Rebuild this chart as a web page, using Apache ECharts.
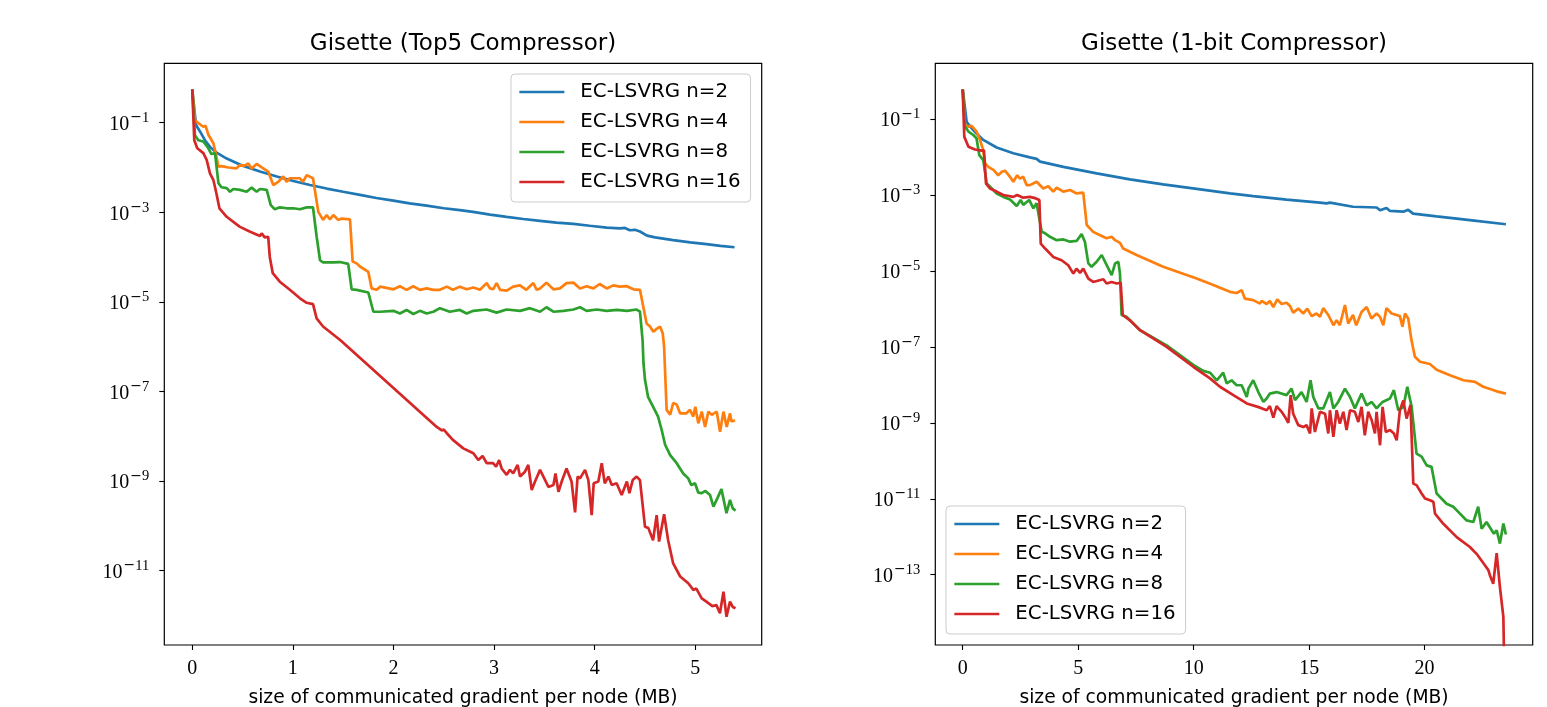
<!DOCTYPE html>
<html>
<head>
<meta charset="utf-8">
<title>Gisette EC-LSVRG</title>
<script src="https://cdn.jsdelivr.net/npm/echarts@6/dist/echarts.min.js"></script>
<style>
html, body { margin: 0; padding: 0; background: #fff; }
#chart { width: 1547px; height: 707px; }
</style>
</head>
<body>
<div id="chart"></div>
<script>
// series names and titles
var seriesNames = ['EC-LSVRG n=2', 'EC-LSVRG n=4', 'EC-LSVRG n=8', 'EC-LSVRG n=16'];
var panelTitles = ['Gisette (Top5 Compressor)', 'Gisette (1-bit Compressor)'];
var xName = 'size of communicated gradient per node (MB)';

// tick values
var xTicksTop5 = [0, 1, 2, 3, 4, 5];
var xTicksBit = [0, 5, 10, 15, 20];
var yTicksTop5 = [1e-1, 1e-3, 1e-5, 1e-7, 1e-9, 1e-11];
var yTicksBit = [1e-1, 1e-3, 1e-5, 1e-7, 1e-9, 1e-11, 1e-13];

// Top5 compressor: [MB, error]
var top5N2 = [[0,0.556],[0.037,8.91e-2],[0.078,6.31e-2],[0.126,4.07e-2],[0.176,2.88e-2],[0.25,2.09e-2],[0.342,1.58e-2],[0.5,1.10e-2],[0.673,8.13e-3],[0.84,6.31e-3],[1.004,5.01e-3],[1.17,4.07e-3],[1.336,3.39e-3],[1.5,2.88e-3],[1.667,2.45e-3],[1.83,2.09e-3],[1.999,1.82e-3],[2.16,1.58e-3],[2.33,1.41e-3],[2.5,1.23e-3],[2.66,1.12e-3],[2.79,1.02e-3],[2.96,8.91e-4],[3.125,7.94e-4],[3.29,7.08e-4],[3.457,6.46e-4],[3.62,5.89e-4],[3.788,5.50e-4],[3.95,5.01e-4],[4.12,4.57e-4],[4.25,4.37e-4],[4.30,4.47e-4],[4.35,3.98e-4],[4.40,4.07e-4],[4.45,3.72e-4],[4.52,3.02e-4],[4.60,2.75e-4],[4.78,2.40e-4],[4.95,2.14e-4],[5.11,1.95e-4],[5.25,1.78e-4],[5.39,1.66e-4]];
var top5N4 = [[0,0.556],[0.027,0.115],[0.06,9.77e-2],[0.11,8.13e-2],[0.133,8.51e-2],[0.16,5.37e-2],[0.21,3.47e-2],[0.226,2.45e-2],[0.26,1.05e-2],[0.29,1.07e-2],[0.36,1.0e-2],[0.44,9.55e-3],[0.47,1.12e-2],[0.52,1.10e-2],[0.557,1.23e-2],[0.59,9.55e-3],[0.64,1.20e-2],[0.705,9.55e-3],[0.755,8.13e-3],[0.805,4.07e-3],[0.855,4.79e-3],[0.905,6.31e-3],[0.938,4.79e-3],[0.97,5.75e-3],[1.07,5.75e-3],[1.10,4.79e-3],[1.137,6.76e-3],[1.20,5.75e-3],[1.253,1.02e-3],[1.30,6.76e-4],[1.336,8.71e-4],[1.369,6.92e-4],[1.402,8.71e-4],[1.45,6.76e-4],[1.485,7.24e-4],[1.568,6.92e-4],[1.594,7.94e-5],[1.634,7.24e-5],[1.667,6.17e-5],[1.75,4.68e-5],[1.783,2.0e-5],[1.83,1.86e-5],[1.87,2.19e-5],[2.0,1.91e-5],[2.064,2.24e-5],[2.13,1.86e-5],[2.197,2.24e-5],[2.263,1.86e-5],[2.33,2.0e-5],[2.396,1.86e-5],[2.462,1.86e-5],[2.53,2.19e-5],[2.59,1.86e-5],[2.66,2.19e-5],[2.727,1.91e-5],[2.794,2.09e-5],[2.86,1.86e-5],[2.926,2.63e-5],[2.96,2.0e-5],[2.99,1.91e-5],[3.025,2.63e-5],[3.06,1.86e-5],[3.125,1.78e-5],[3.19,2.19e-5],[3.258,2.34e-5],[3.32,1.86e-5],[3.39,2.63e-5],[3.424,1.86e-5],[3.457,2.0e-5],[3.52,2.69e-5],[3.59,1.91e-5],[3.655,2.0e-5],[3.72,2.63e-5],[3.788,2.69e-5],[3.854,2.0e-5],[3.92,2.24e-5],[3.987,2.0e-5],[4.05,2.51e-5],[4.12,2.0e-5],[4.186,2.34e-5],[4.25,2.19e-5],[4.32,2.24e-5],[4.385,1.91e-5],[4.45,1.86e-5],[4.483,7.76e-6],[4.516,3.31e-6],[4.55,2.82e-6],[4.583,2.14e-6],[4.616,2.51e-6],[4.65,2.82e-6],[4.676,2.0e-6],[4.69,1.0e-6],[4.715,3.89e-8],[4.75,3.02e-8],[4.78,5.50e-8],[4.815,5.13e-8],[4.85,3.24e-8],[4.91,3.24e-8],[4.947,3.89e-8],[4.98,2.75e-8],[5.0,4.57e-8],[5.03,1.95e-8],[5.064,3.55e-8],[5.097,1.62e-8],[5.13,3.55e-8],[5.163,3.02e-8],[5.213,3.55e-8],[5.246,1.26e-8],[5.28,3.55e-8],[5.312,1.62e-8],[5.345,3.24e-8],[5.36,2.14e-8],[5.395,2.29e-8]];
var top5N8 = [[0,0.556],[0.027,5.25e-2],[0.06,4.07e-2],[0.11,3.80e-2],[0.16,2.69e-2],[0.19,2.0e-2],[0.226,2.09e-2],[0.26,4.47e-3],[0.29,3.63e-3],[0.342,3.47e-3],[0.375,2.88e-3],[0.408,3.31e-3],[0.474,3.16e-3],[0.54,2.88e-3],[0.59,3.55e-3],[0.64,2.88e-3],[0.673,3.31e-3],[0.74,3.16e-3],[0.755,3.24e-3],[0.78,1.45e-3],[0.82,1.17e-3],[0.87,1.29e-3],[0.94,1.23e-3],[1.004,1.23e-3],[1.07,1.17e-3],[1.137,1.29e-3],[1.20,1.29e-3],[1.236,2.88e-4],[1.27,8.51e-5],[1.30,7.59e-5],[1.40,7.59e-5],[1.468,7.76e-5],[1.55,7.08e-5],[1.584,1.91e-5],[1.634,1.86e-5],[1.75,1.62e-5],[1.80,6.03e-6],[1.87,6.03e-6],[2.0,6.31e-6],[2.064,5.50e-6],[2.13,6.61e-6],[2.197,5.37e-6],[2.263,6.31e-6],[2.33,5.50e-6],[2.396,6.03e-6],[2.462,7.24e-6],[2.56,6.03e-6],[2.66,6.61e-6],[2.727,5.50e-6],[2.794,6.31e-6],[2.926,6.76e-6],[3.025,5.75e-6],[3.125,6.76e-6],[3.258,6.31e-6],[3.357,7.24e-6],[3.457,6.03e-6],[3.52,7.59e-6],[3.59,6.03e-6],[3.69,6.31e-6],[3.788,6.76e-6],[3.854,7.59e-6],[3.92,6.31e-6],[4.02,6.76e-6],[4.12,6.31e-6],[4.22,6.61e-6],[4.32,6.31e-6],[4.417,6.76e-6],[4.45,6.03e-6],[4.476,1.41e-6],[4.485,4.27e-7],[4.50,1.82e-7],[4.53,7.59e-8],[4.58,4.57e-8],[4.63,2.75e-8],[4.666,1.38e-8],[4.70,6.46e-9],[4.75,3.80e-9],[4.815,2.51e-9],[4.88,1.48e-9],[4.93,1.15e-9],[4.96,8.13e-10],[4.997,8.91e-10],[5.03,5.50e-10],[5.064,5.37e-10],[5.10,6.03e-10],[5.146,4.90e-10],[5.18,2.69e-10],[5.22,4.17e-10],[5.26,6.61e-10],[5.31,1.91e-10],[5.345,3.80e-10],[5.372,2.45e-10],[5.40,2.19e-10]];
var top5N16 = [[0,0.556],[0.02,4.07e-2],[0.05,2.69e-2],[0.11,2.09e-2],[0.143,1.48e-2],[0.176,7.41e-3],[0.21,5.25e-3],[0.24,2.63e-3],[0.27,1.23e-3],[0.342,7.94e-4],[0.47,4.79e-4],[0.57,3.72e-4],[0.673,2.95e-4],[0.69,3.39e-4],[0.72,2.75e-4],[0.755,2.82e-4],[0.77,1.02e-4],[0.80,4.37e-5],[0.87,2.82e-5],[0.97,1.86e-5],[1.07,1.20e-5],[1.137,9.55e-6],[1.20,8.91e-6],[1.236,4.27e-6],[1.30,2.82e-6],[1.47,1.41e-6],[2.43,1.62e-8],[2.48,1.35e-8],[2.50,1.41e-8],[2.53,1.17e-8],[2.59,8.32e-9],[2.694,5.37e-9],[2.794,4.17e-9],[2.843,2.95e-9],[2.886,3.63e-9],[2.926,2.51e-9],[2.99,2.51e-9],[3.02,2.09e-9],[3.05,2.95e-9],[3.075,1.91e-9],[3.125,1.38e-9],[3.158,1.78e-9],[3.19,1.48e-9],[3.234,2.29e-9],[3.258,1.26e-9],[3.307,1.62e-9],[3.34,2.29e-9],[3.374,6.31e-10],[3.407,9.77e-10],[3.457,1.78e-9],[3.54,7.41e-10],[3.59,8.13e-10],[3.61,1.48e-9],[3.64,5.75e-10],[3.672,9.77e-10],[3.72,1.91e-9],[3.77,9.77e-10],[3.805,2.0e-10],[3.83,1.26e-9],[3.854,1.15e-9],[3.904,1.78e-9],[3.937,1.05e-9],[3.97,1.74e-10],[3.99,8.91e-10],[4.036,9.77e-10],[4.07,2.51e-9],[4.10,8.91e-10],[4.136,1.26e-9],[4.17,8.13e-10],[4.218,8.91e-10],[4.268,4.90e-10],[4.32,9.77e-10],[4.345,5.37e-10],[4.378,1.05e-9],[4.417,1.26e-9],[4.45,1.05e-9],[4.50,9.55e-11],[4.533,8.91e-11],[4.58,4.79e-11],[4.616,1.74e-10],[4.64,4.47e-11],[4.69,1.82e-10],[4.73,4.79e-11],[4.78,1.45e-11],[4.85,7.41e-12],[4.93,5.25e-12],[4.98,3.72e-12],[5.01,3.98e-12],[5.064,2.40e-12],[5.11,2.04e-12],[5.17,1.62e-12],[5.21,1.70e-12],[5.245,1.12e-12],[5.28,3.39e-12],[5.31,9.33e-13],[5.345,2.04e-12],[5.372,1.55e-12],[5.40,1.45e-12]];

// 1-bit compressor: [MB, error]
var bitN2 = [[0,0.605],[0.17,8.51e-2],[0.32,6.31e-2],[0.6,4.17e-2],[0.89,2.82e-2],[1.47,1.78e-2],[2.19,1.26e-2],[2.91,9.77e-3],[3.2,8.91e-3],[3.35,7.59e-3],[4.36,5.50e-3],[5.8,3.72e-3],[7.24,2.57e-3],[8.68,1.91e-3],[10.13,1.45e-3],[11.57,1.10e-3],[12.58,9.33e-4],[14.02,7.59e-4],[15.47,6.31e-4],[15.75,6.03e-4],[15.90,6.31e-4],[16.9,4.90e-4],[17.92,4.68e-4],[18.07,3.98e-4],[18.35,4.57e-4],[18.50,3.80e-4],[19.08,3.63e-4],[19.29,4.07e-4],[19.5,3.24e-4],[20.52,2.75e-4],[21.96,2.19e-4],[23.52,1.70e-4]];
var bitN4 = [[0,0.605],[0.1,6.92e-2],[0.25,6.31e-2],[0.39,6.61e-2],[0.6,4.68e-2],[0.75,2.82e-2],[0.89,1.51e-2],[0.97,6.76e-3],[1.11,5.50e-3],[1.33,4.57e-3],[1.54,3.31e-3],[1.69,4.07e-3],[1.83,4.37e-3],[2.05,3.02e-3],[2.19,2.24e-3],[2.36,3.31e-3],[2.48,2.69e-3],[2.62,3.02e-3],[2.77,1.82e-3],[2.91,1.82e-3],[3.2,2.24e-3],[3.49,1.48e-3],[3.71,1.70e-3],[3.92,1.23e-3],[4.07,1.55e-3],[4.36,1.23e-3],[4.65,1.35e-3],[4.93,1.10e-3],[5.22,1.15e-3],[5.29,1.10e-3],[5.37,1.62e-4],[5.65,1.07e-4],[5.95,8.71e-5],[6.23,7.24e-5],[6.45,7.94e-5],[6.6,6.46e-5],[6.81,5.50e-5],[6.95,3.89e-5],[7.53,2.63e-5],[8.68,1.29e-5],[10.13,6.31e-6],[10.85,4.27e-6],[11.57,2.82e-6],[11.86,2.63e-6],[12.08,3.09e-6],[12.22,1.86e-6],[12.58,1.70e-6],[12.87,1.38e-6],[12.94,1.62e-6],[13.16,1.35e-6],[13.30,1.62e-6],[13.45,1.12e-6],[13.62,1.78e-6],[13.81,1.35e-6],[14.02,1.45e-6],[14.17,1.20e-6],[14.31,7.94e-7],[14.53,1.02e-6],[14.75,7.59e-7],[14.92,1.02e-6],[15.11,6.46e-7],[15.32,7.59e-7],[15.47,6.17e-7],[15.61,1.05e-6],[15.83,6.92e-7],[16.05,3.72e-7],[16.19,5.01e-7],[16.33,3.72e-7],[16.55,1.26e-6],[16.69,4.12e-7],[16.9,6.92e-7],[17.04,3.72e-7],[17.27,8.32e-7],[17.49,1.12e-6],[17.70,5.62e-7],[17.92,7.59e-7],[18.07,6.17e-7],[18.21,3.72e-7],[18.35,1.05e-6],[18.57,7.59e-7],[18.79,6.92e-7],[18.93,6.46e-7],[19.04,3.39e-7],[19.15,7.59e-7],[19.29,5.62e-7],[19.43,1.51e-7],[19.58,5.50e-8],[19.80,4.07e-8],[20.23,3.55e-8],[20.52,2.51e-8],[21.10,1.78e-8],[21.68,1.32e-8],[22.18,1.20e-8],[22.54,8.91e-9],[23.12,6.76e-9],[23.52,5.89e-9]];
var bitN8 = [[0,0.605],[0.1,6.31e-2],[0.25,4.68e-2],[0.46,3.80e-2],[0.6,3.09e-2],[0.72,1.12e-2],[0.89,8.32e-3],[1.04,2.0e-3],[1.26,1.48e-3],[1.47,1.10e-3],[1.76,8.91e-4],[2.05,7.59e-4],[2.34,5.13e-4],[2.51,7.41e-4],[2.62,5.50e-4],[2.88,7.41e-4],[3.06,4.47e-4],[3.20,6.03e-4],[3.42,1.07e-4],[3.57,9.77e-5],[3.78,7.94e-5],[4.07,6.46e-5],[4.36,6.76e-5],[4.65,5.89e-5],[4.93,6.17e-5],[5.15,9.33e-5],[5.29,5.89e-5],[5.44,1.58e-5],[5.58,1.29e-5],[5.80,1.74e-5],[6.02,2.63e-5],[6.23,1.45e-5],[6.45,7.76e-6],[6.6,1.58e-5],[6.74,1.74e-5],[6.81,8.51e-6],[6.88,6.92e-7],[7.1,6.17e-7],[7.68,2.75e-7],[8.83,1.10e-7],[10.0,3.31e-8],[10.42,2.34e-8],[10.71,2.09e-8],[11.0,1.32e-8],[11.28,2.09e-8],[11.43,1.10e-8],[11.64,1.32e-8],[11.86,9.77e-9],[12.08,9.77e-9],[12.30,4.79e-9],[12.37,7.94e-9],[12.58,1.32e-8],[12.80,6.46e-9],[13.02,3.55e-9],[13.16,4.37e-9],[13.30,5.89e-9],[13.59,6.46e-9],[14.02,5.37e-9],[14.24,7.94e-9],[14.39,3.98e-9],[14.67,6.46e-9],[14.89,3.55e-9],[15.06,1.32e-8],[15.18,4.79e-9],[15.40,2.40e-9],[15.61,2.40e-9],[15.90,6.46e-9],[16.05,2.40e-9],[16.26,3.55e-9],[16.55,7.94e-9],[16.77,4.79e-9],[16.98,2.40e-9],[17.27,5.89e-9],[17.49,2.88e-9],[17.71,3.55e-9],[17.92,2.40e-9],[18.18,3.55e-9],[18.50,4.37e-9],[18.67,7.24e-9],[18.86,2.14e-9],[19.08,2.63e-9],[19.25,8.91e-9],[19.44,2.63e-9],[19.65,1.55e-10],[19.87,1.29e-10],[20.09,7.59e-11],[20.30,6.92e-11],[20.52,1.38e-11],[20.95,7.41e-12],[21.24,6.17e-12],[21.53,4.07e-12],[21.82,2.69e-12],[22.11,2.45e-12],[22.32,6.17e-12],[22.47,1.62e-12],[22.68,2.45e-12],[23.0,1.20e-12],[23.12,1.48e-12],[23.26,6.61e-13],[23.41,2.24e-12],[23.52,1.15e-12]];
var bitN16 = [[0,0.605],[0.07,3.39e-2],[0.25,1.86e-2],[0.53,1.58e-2],[0.82,1.48e-2],[0.92,1.51e-2],[1.01,2.0e-3],[1.18,1.48e-3],[1.47,1.23e-3],[1.76,1.0e-3],[2.19,8.91e-4],[2.36,1.0e-3],[2.62,8.51e-4],[2.91,8.91e-4],[3.17,8.13e-4],[3.32,7.41e-4],[3.38,5.25e-5],[3.57,3.89e-5],[3.92,2.34e-5],[4.28,1.91e-5],[4.57,1.41e-5],[4.79,8.51e-6],[4.93,1.15e-5],[5.08,8.91e-6],[5.22,1.15e-5],[5.44,6.31e-6],[5.65,5.13e-6],[6.09,6.03e-6],[6.23,4.68e-6],[6.45,5.13e-6],[6.67,4.68e-6],[6.84,4.90e-6],[6.93,6.92e-7],[7.24,5.01e-7],[7.68,2.75e-7],[8.83,1.0e-7],[10.0,2.95e-8],[10.71,1.48e-8],[11.14,8.91e-9],[11.72,5.37e-9],[12.30,3.24e-9],[12.88,2.51e-9],[13.16,2.14e-9],[13.30,2.75e-9],[13.45,1.38e-9],[13.59,2.75e-9],[13.81,1.95e-9],[13.95,1.45e-9],[14.10,1.0e-9],[14.20,5.37e-9],[14.31,1.74e-9],[14.53,8.71e-10],[14.75,7.76e-10],[14.89,8.71e-10],[15.04,5.25e-10],[15.11,2.40e-9],[15.25,5.75e-10],[15.47,1.95e-9],[15.69,1.74e-9],[15.83,5.25e-10],[15.90,2.14e-9],[16.05,4.27e-10],[16.19,2.14e-9],[16.33,9.55e-10],[16.48,1.95e-9],[16.62,6.46e-10],[16.77,2.14e-9],[16.98,1.95e-9],[17.13,1.05e-9],[17.27,2.63e-9],[17.41,4.68e-10],[17.56,1.95e-9],[17.71,1.17e-9],[17.85,5.25e-10],[17.92,1.95e-9],[18.07,2.57e-10],[18.18,2.63e-9],[18.32,5.75e-10],[18.50,6.46e-10],[18.67,5.25e-10],[18.79,3.47e-10],[18.93,2.14e-9],[19.08,3.89e-9],[19.22,1.29e-9],[19.39,2.95e-9],[19.51,2.51e-11],[19.65,2.29e-11],[19.87,1.38e-11],[20.02,1.02e-11],[20.23,9.12e-12],[20.38,8.32e-12],[20.45,4.07e-12],[20.81,2.19e-12],[21.39,9.77e-13],[21.96,5.37e-13],[22.25,3.55e-13],[22.61,1.78e-13],[22.76,1.32e-13],[22.83,9.55e-14],[22.97,5.75e-14],[23.12,3.72e-13],[23.26,4.79e-14],[23.41,7.76e-15],[23.52,1e-18]];

var colors = ['#1f77b4', '#ff7f0e', '#2ca02c', '#d62728'];
var serifFont = 'Liberation Serif';
var sansFont = 'DejaVu Sans';
var lineWidth = 2.7;

var myChart = echarts.init(document.getElementById('chart'), null, {renderer: 'canvas'});

// 10^{-n} style tick labels
function powLabel(v) {
	var e = Math.round(Math.log(v) / Math.LN10);
	return '{b|10}' + (e < 0 ? '{m|\u2212}' : '') + '{s|' + Math.abs(e) + '}';
}

function xAxisCfg(idx, min, max, ticks) {
	return {
		gridIndex: idx, type: 'value', min: min, max: max,
		axisLine: {show: false, onZero: false},
		axisTick: {show: true, customValues: ticks, length: 5, lineStyle: {color: '#000', width: 1.1}},
		axisLabel: {customValues: ticks, margin: 14, color: '#000', fontFamily: serifFont, fontSize: 20},
		splitLine: {show: false},
		name: xName, nameLocation: 'middle', nameGap: 44,
		nameTextStyle: {color: '#000', fontFamily: sansFont, fontSize: 18.7}
	};
}

function yAxisCfg(idx, min, max, ticks) {
	return {
		gridIndex: idx, type: 'log', logBase: 10, min: min, max: max,
		axisLine: {show: false, onZero: false},
		axisTick: {show: true, customValues: ticks, length: 5, lineStyle: {color: '#000', width: 1.1}},
		axisLabel: {
			customValues: ticks, margin: 15, color: '#000', formatter: powLabel,
			rich: {
				b: {fontFamily: serifFont, fontSize: 20, color: '#000', padding: [4, 1, 0, 0]},
				m: {fontFamily: 'DejaVu Serif', fontSize: 14, color: '#000', verticalAlign: 'top'},
				s: {fontFamily: serifFont, fontSize: 14.5, color: '#000', verticalAlign: 'top'}
			}
		},
		splitLine: {show: false}
	};
}

function legendCfg(left, top) {
	return {
		left: left, top: top, orient: 'vertical', data: seriesNames,
		itemWidth: 45, itemHeight: 14, itemGap: 10,
		padding: [8, 10, 10, 7],
		backgroundColor: 'rgba(255,255,255,0.8)', borderColor: '#cccccc', borderWidth: 1, borderRadius: 4,
		itemStyle: {opacity: 0},
		lineStyle: {width: lineWidth},
		textStyle: {color: '#000', fontFamily: sansFont, fontSize: 19.8, lineHeight: 20, padding: [0, 0, 0, 11]},
		selectedMode: false
	};
}

function lineSeries(i, data, idx) {
	return {
		name: seriesNames[i], type: 'line', xAxisIndex: idx, yAxisIndex: idx,
		data: data, symbol: 'none', showSymbol: false, clip: true, silent: true,
		lineStyle: {color: colors[i], width: lineWidth},
		itemStyle: {color: colors[i]}
	};
}

var gridBase = {top: 63.3, width: 597.4, height: 581.7, show: true, borderColor: '#000', borderWidth: 1.2, outerBoundsMode: 'none', containLabel: false};

var option = {
	animation: false,
	backgroundColor: '#fff',
	title: [
		{text: panelTitles[0], left: 463, top: 33, textAlign: 'center', padding: 0,
			textStyle: {color: '#000', fontFamily: sansFont, fontSize: 23, fontWeight: 'normal'}},
		{text: panelTitles[1], left: 1234, top: 33, textAlign: 'center', padding: 0,
			textStyle: {color: '#000', fontFamily: sansFont, fontSize: 23, fontWeight: 'normal'}}
	],
	legend: [legendCfg(511, 74), legendCfg(946, 506)],
	grid: [
		echarts.util.extend({left: 164.3}, gridBase),
		echarts.util.extend({left: 935.3}, gridBase)
	],
	xAxis: [
		xAxisCfg(0, -0.278, 5.66, xTicksTop5),
		xAxisCfg(1, -1.186, 24.68, xTicksBit)
	],
	yAxis: [
		yAxisCfg(0, 2.19e-13, 2.12, yTicksTop5),
		yAxisCfg(1, 1.41e-15, 2.94, yTicksBit)
	],
	series: [
		lineSeries(0, top5N2, 0), lineSeries(1, top5N4, 0), lineSeries(2, top5N8, 0), lineSeries(3, top5N16, 0),
		lineSeries(0, bitN2, 1), lineSeries(1, bitN4, 1), lineSeries(2, bitN8, 1), lineSeries(3, bitN16, 1)
	]
};

myChart.setOption(option);
</script>
</body>
</html>
